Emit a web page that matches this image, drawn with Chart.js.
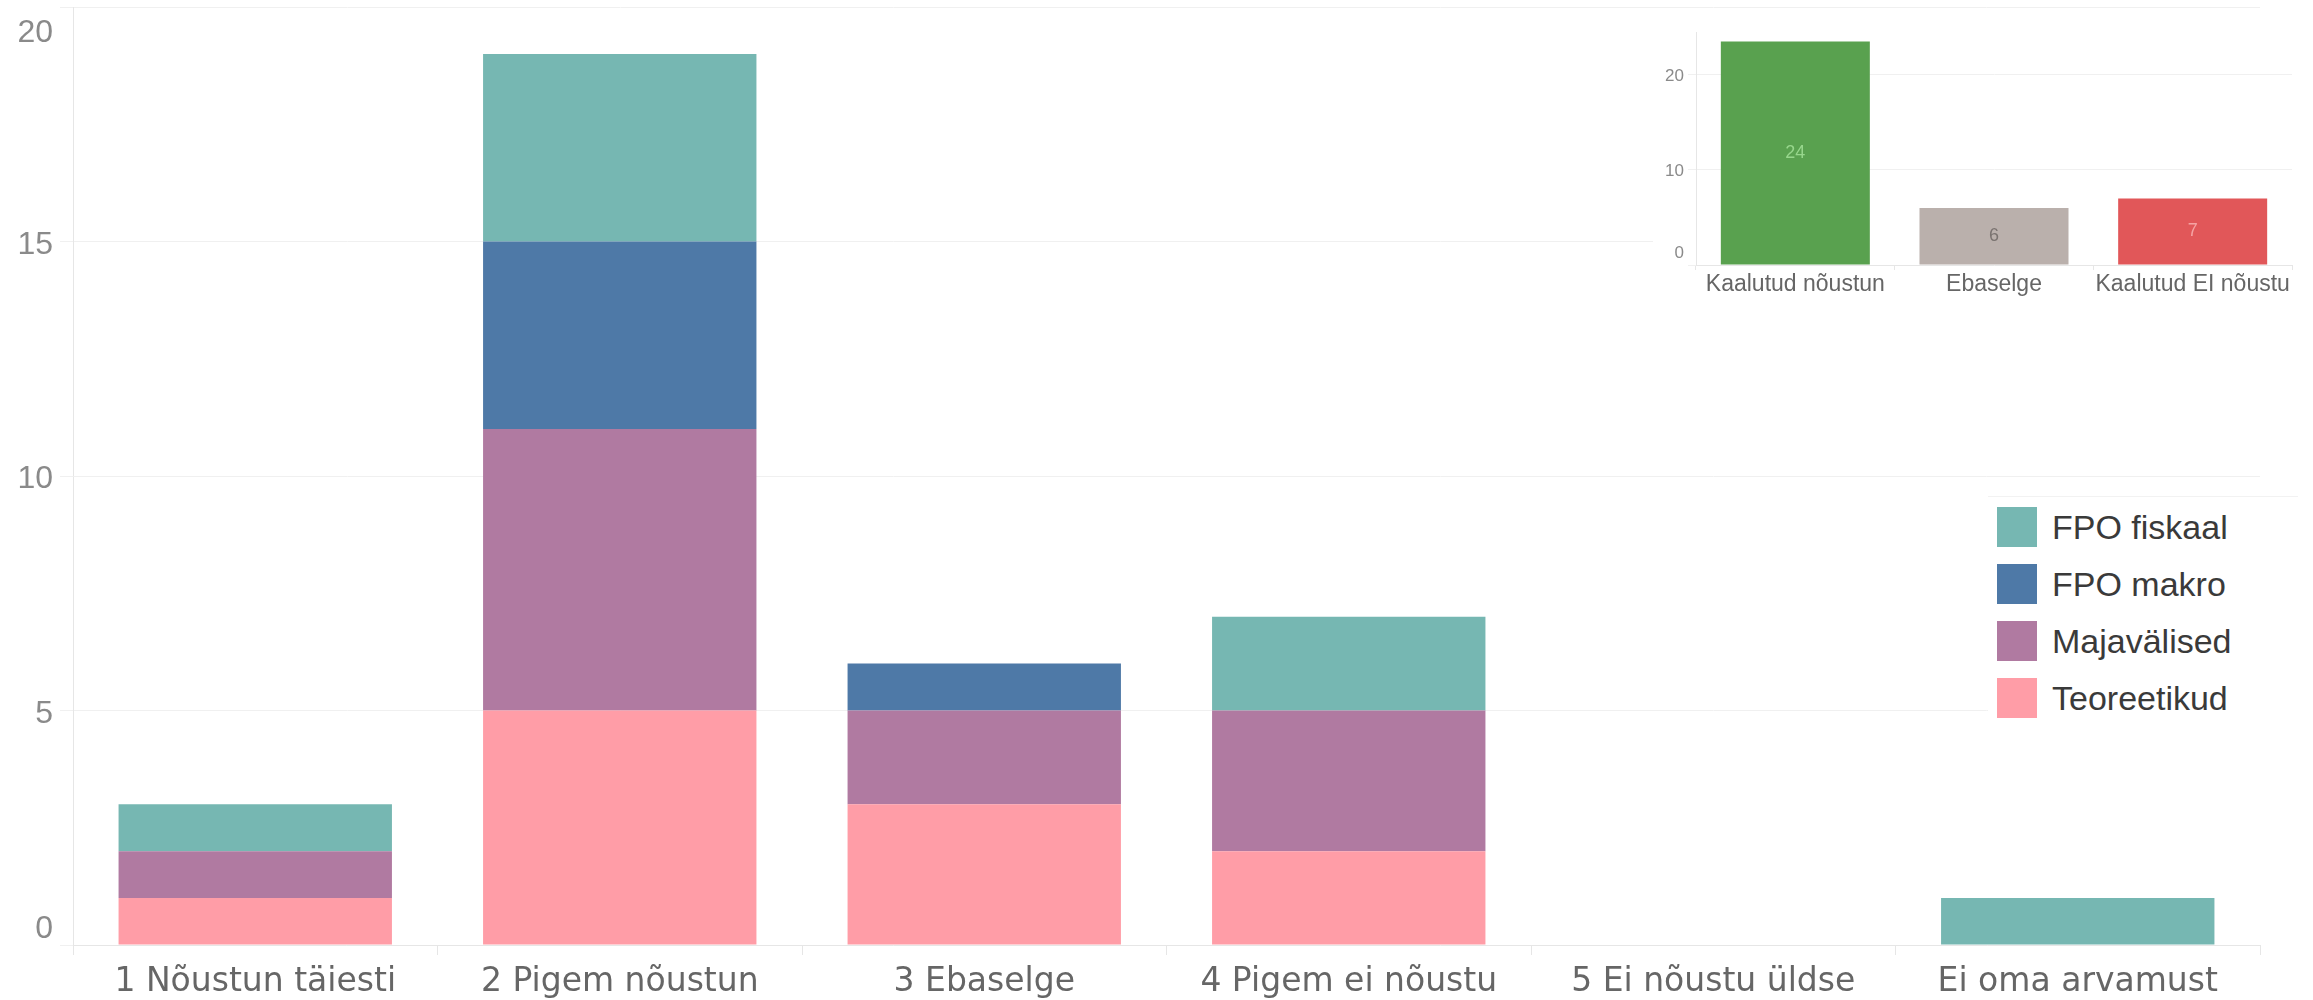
<!DOCTYPE html>
<html>
<head>
<meta charset="utf-8">
<script src="https://cdn.jsdelivr.net/npm/chart.js@4.4.1/dist/chart.umd.min.js"></script>
<style>
  body { margin:0; width:2313px; height:1000px; overflow:hidden; background:#fff; position:relative; }
  #mainBox { position:absolute; left:0; top:0; }
  #insetBox { position:absolute; left:1653px; top:12px; width:660px; height:458px; background:#fff; }
  #legend { position:absolute; left:1988px; top:496px; width:310px; height:235px; background:#fff;
            border-top:1px solid #f2f2f2; font-family:'Liberation Sans', Arial, sans-serif; }
  .row { position:absolute; left:9px; height:40px; display:flex; align-items:center; }
  .sq { width:40px; height:40px; margin-right:15px; }
  .txt { font-size:34px; color:#3a3a3a; white-space:nowrap; }
</style>
</head>
<body>
<div id="mainBox"><canvas id="mainChart" width="2313" height="1000"></canvas></div>
<div id="insetBox"><canvas id="insetChart" width="660" height="458"></canvas></div>
<div id="legend"></div>
<script>
//-------------
//- DATA -
//-------------
var categories = ['1 Nõustun täiesti', '2 Pigem nõustun', '3 Ebaselge', '4 Pigem ei nõustu', '5 Ei nõustu üldse', 'Ei oma arvamust'];
var teoreetikud = [1, 5, 3, 2, 0, 0];
var majavalised = [1, 6, 2, 3, 0, 0];
var fpoMakro    = [0, 4, 1, 0, 0, 0];
var fpoFiskaal  = [1, 4, 0, 2, 0, 1];
var seriesNames = ['Teoreetikud', 'Majavälised', 'FPO makro', 'FPO fiskaal'];

// weighted totals (first bar sits a bit under 24, label shows it rounded)
var weightedCats   = ['Kaalutud nõustun', 'Ebaselge', 'Kaalutud EI nõustu'];
var weightedValues = [23.5, 6, 7];

//COLORS
var seriesColors = ['#FF9DA7', '#B07AA1', '#4E79A7', '#76B7B2'];
var weightedColors = ['#59A14F', '#BAB0AC', '#E15759'];
var weightedLabelColors = ['#97D68C', '#7A7370', '#F5A3A3'];

var gridColor = '#f0f0f0';
var axisColor = '#e6e6e6';

// y tick labels drawn by hand so the end ones can sit inside the axis (like tableau)
function yLabels(id, font, color, xRight, dMid, dTop, dBottom) {
  return {
    id: id,
    afterDraw: function(chart) {
      var s = chart.scales.y;
      var ctx = chart.ctx;
      ctx.save();
      ctx.font = font;
      ctx.fillStyle = color;
      ctx.textAlign = 'right';
      ctx.textBaseline = 'alphabetic';
      s.ticks.forEach(function(t) {
        var y = s.getPixelForValue(t.value);
        var d = dMid;
        if (t.value === s.min) d = dBottom;
        else if (t.value === s.max) d = dTop;
        ctx.fillText(t.label, xRight, y + d);
      });
      ctx.restore();
    }
  };
}

//MAIN CHART
var series = [teoreetikud, majavalised, fpoMakro, fpoFiskaal];
var datasets = [];
for (var i = 0; i < series.length; i++) {
  datasets.push({
    label: seriesNames[i],
    data: series[i],
    backgroundColor: seriesColors[i],
    borderWidth: 0,
    barPercentage: 0.75,
    categoryPercentage: 1
  });
}

new Chart(document.getElementById('mainChart').getContext('2d'), {
  type: 'bar',
  data: { labels: categories, datasets: datasets },
  options: {
    responsive: false,
    animation: false,
    layout: { padding: { top: 7, right: 53, left: 0, bottom: 0 } },
    plugins: { legend: { display: false }, tooltip: { enabled: false } },
    scales: {
      x: {
        stacked: true,
        grid: { offset: true, drawOnChartArea: false, drawTicks: true, tickLength: 10, color: axisColor },
        border: { display: true, color: axisColor },
        ticks: { autoSkip: false, maxRotation: 0, padding: 8, color: '#666',
                 font: { family: "'DejaVu Sans', sans-serif", size: 33 } },
        afterFit: function(s) { s.height = 55; }
      },
      y: {
        stacked: true,
        min: 0,
        max: 20,
        grid: { color: gridColor, tickLength: 13 },
        border: { display: true, color: axisColor },
        ticks: { stepSize: 5, display: false },
        afterFit: function(s) { s.width = 73; }
      }
    }
  },
  plugins: [yLabels('mainY', "32px 'Liberation Sans', Arial, sans-serif", '#8a8a8a', 53, 12, 35, -7)]
});

//INSET CHART
var barText = {
  id: 'barText',
  afterDatasetsDraw: function(chart) {
    var ctx = chart.ctx;
    var meta = chart.getDatasetMeta(0);
    ctx.save();
    ctx.font = "18px 'Liberation Sans', Arial, sans-serif";
    ctx.textAlign = 'center';
    ctx.textBaseline = 'middle';
    meta.data.forEach(function(bar, j) {
      ctx.fillStyle = weightedLabelColors[j];
      ctx.fillText(String(Math.round(weightedValues[j])), bar.x, (bar.y + bar.base) / 2);
    });
    ctx.restore();
  }
};

new Chart(document.getElementById('insetChart').getContext('2d'), {
  type: 'bar',
  data: {
    labels: weightedCats,
    datasets: [{
      data: weightedValues,
      backgroundColor: weightedColors,
      borderWidth: 0,
      barPercentage: 0.75,
      categoryPercentage: 1
    }]
  },
  options: {
    responsive: false,
    animation: false,
    layout: { padding: { top: 20, right: 21, left: 0, bottom: 0 } },
    plugins: { legend: { display: false }, tooltip: { enabled: false } },
    scales: {
      x: {
        grid: { offset: true, drawOnChartArea: false, drawTicks: true, tickLength: 5, color: axisColor },
        border: { display: true, color: axisColor },
        ticks: { autoSkip: false, maxRotation: 0, padding: 1, color: '#666',
                 font: { family: "'Liberation Sans', Arial, sans-serif", size: 23 } },
        afterFit: function(s) { s.height = 205; }
      },
      y: {
        min: 0,
        max: 24.5,
        grid: { color: gridColor, tickLength: 8 },
        border: { display: true, color: axisColor },
        ticks: { stepSize: 10, includeBounds: false, display: false },
        afterFit: function(s) { s.width = 43; }
      }
    }
  },
  plugins: [barText, yLabels('insetY', "17px 'Liberation Sans', Arial, sans-serif", '#8a8a8a', 31, 6, 6, -7)]
});

//LEGEND (top of stack first)
var legend = document.getElementById('legend');
for (var k = seriesNames.length - 1, r = 0; k >= 0; k--, r++) {
  var row = document.createElement('div');
  row.className = 'row';
  row.style.top = (10 + r * 57) + 'px';
  row.innerHTML = '<div class="sq" style="background:' + seriesColors[k] + '"></div><span class="txt">' + seriesNames[k] + '</span>';
  legend.appendChild(row);
}
</script>
</body>
</html>
